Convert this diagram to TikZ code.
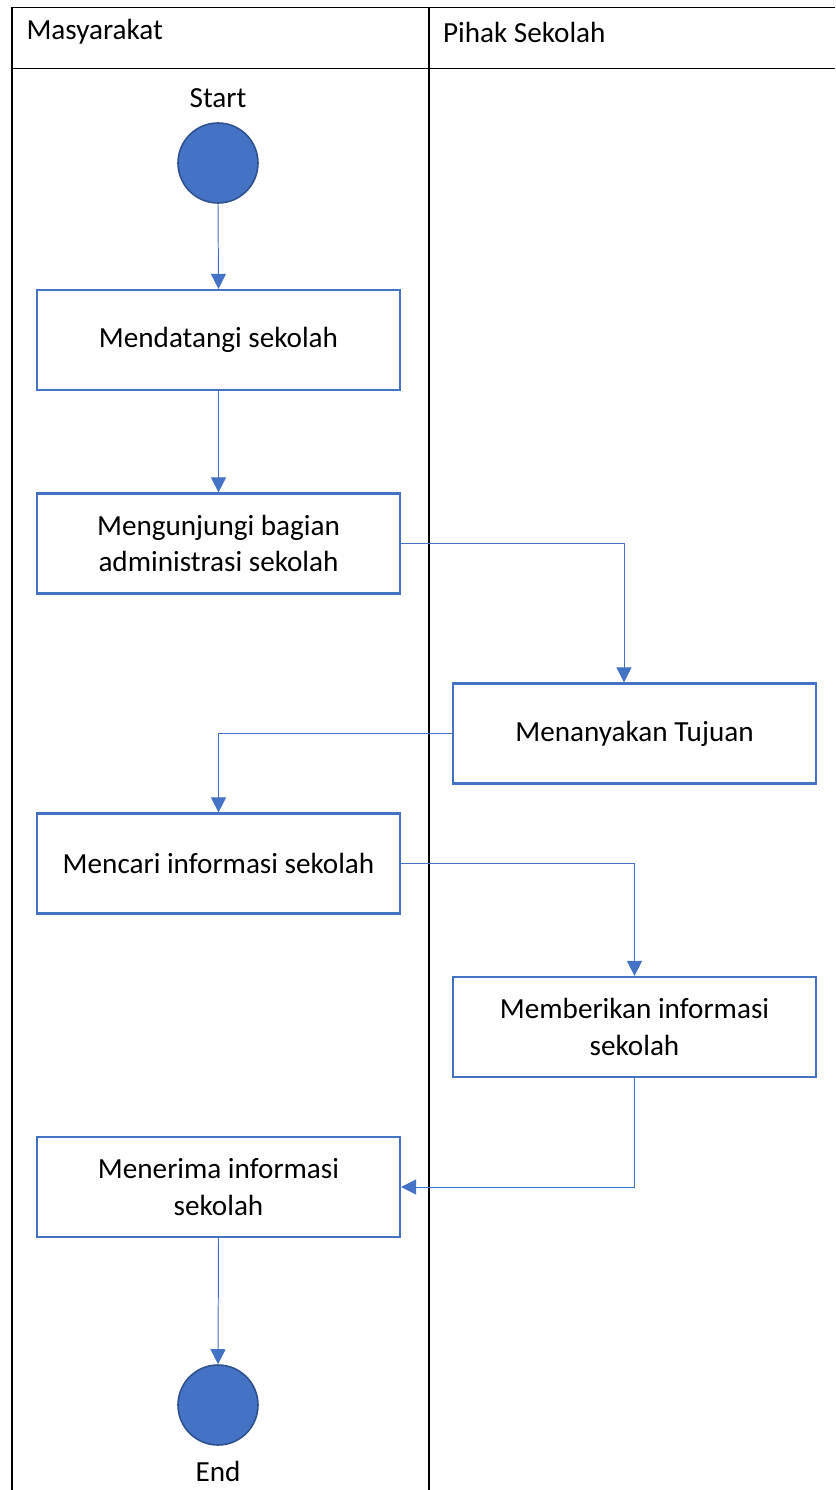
\documentclass[tikz,border=0pt]{standalone}
\usepackage{fontspec}
\setmainfont{Carlito}
\usepackage{tikz}
\usetikzlibrary{positioning,arrows.meta}
\definecolor{actblue}{HTML}{4472C4}
\definecolor{actdark}{HTML}{2F528F}
\tikzset{every picture/.style={line width=0.75pt}}
\tikzset{
  act/.style={draw=actblue,line width=1.25pt,minimum width=7.26cm,minimum height=2cm,align=center,inner sep=0pt,
    execute at begin node={\vspace*{0.16cm}}},
  dot/.style={circle,fill=actblue,draw=actdark,line width=0.9pt,minimum size=1.6cm,inner sep=0pt},
  flow/.style={draw=actblue,line width=0.55pt,-{Triangle[width=0.3cm,length=0.3cm]}},
  lane/.style={line width=1.1pt}
}
\begin{document}
\begin{tikzpicture}[font=\fontsize{16.6}{21}\selectfont]
\useasboundingbox (0,0) rectangle (16.7,-29.8);
% swimlanes
\coordinate (tl) at (0.24,-0.15);
\coordinate (tr) at (16.7,-0.15);
\coordinate (hl) at (0.24,-1.37);
\coordinate (hr) at (16.7,-1.37);
\coordinate (bl) at (0.24,-29.8);
\coordinate (dt) at (8.58,-0.15);
\coordinate (db) at (8.58,-29.8);
\draw[lane] (tr) -- (tl) -- (bl);
\draw[lane] (hl) -- (hr);
\draw[lane] (dt) -- (db);
\node[anchor=west] (lane1) at (0.4,-0.64) {Masyarakat};
\node[anchor=west] (lane2) at (8.73,-0.64) {Pihak Sekolah};
%
\node (startlbl) at (4.36,-1.96) {Start};
\node[dot] (start) at (4.36,-3.26) {};
\node[act] (datang) at (4.37,-6.8) {Mendatangi sekolah};
\node[act] (kunjung) at (4.37,-10.87) {Mengunjungi bagian\\administrasi sekolah};
\node[act] (tanya) at (12.69,-14.67) {Menanyakan Tujuan};
\node[act] (cari) at (4.37,-17.27) {Mencari informasi sekolah};
\node[act] (beri) at (12.69,-20.54) {Memberikan informasi\\sekolah};
\node[act] (terima) at (4.37,-23.74) {Menerima informasi\\sekolah};
\node[dot] (end) at (4.36,-28.1) {};
\node (endlbl) at (4.36,-29.42) {End};
%
\foreach \Source/\Target in {%
	start.south/datang.north,
	datang.south/kunjung.north,
	terima.south/end.north%
    }
\draw[flow] (\Source) -- (\Target);
%
\draw[flow] (kunjung.east) -| ([xshift=-0.21cm]tanya.north);
\draw[flow] (tanya.west) -| (cari.north);
\draw[flow] (cari.east) -| (beri.north);
\draw[flow] (beri.south) |- (terima.east);
\end{tikzpicture}
\end{document}
